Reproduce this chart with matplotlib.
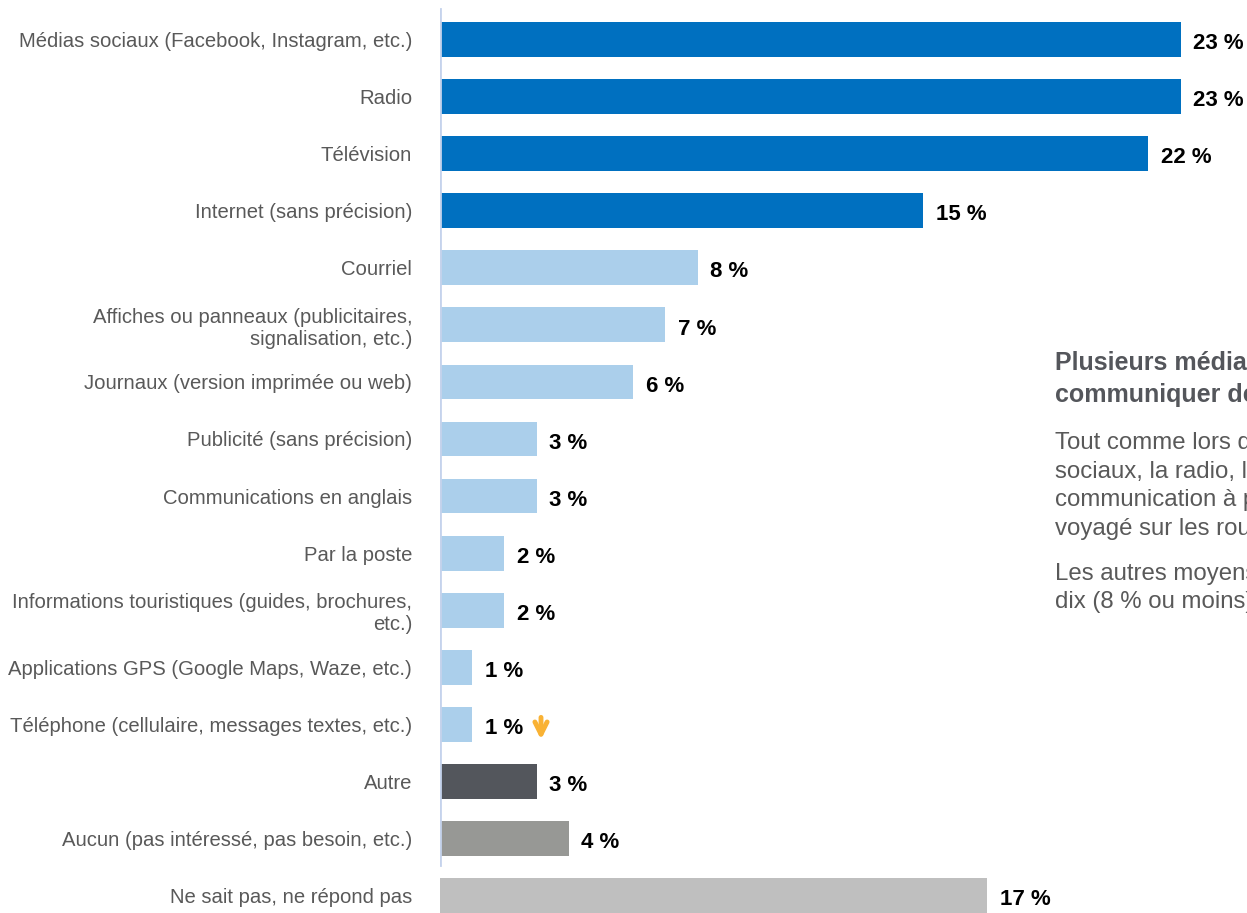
# moyens de communication - diagramme a barres horizontales

import matplotlib.pyplot as plt
from matplotlib.text import OffsetFrom

plt.rcParams['font.family'] = ['Liberation Sans', 'DejaVu Sans']

categories = [
    "Médias sociaux (Facebook, Instagram, etc.)",
    "Radio",
    "Télévision",
    "Internet (sans précision)",
    "Courriel",
    "Affiches ou panneaux (publicitaires,\nsignalisation, etc.)",
    "Journaux (version imprimée ou web)",
    "Publicité (sans précision)",
    "Communications en anglais",
    "Par la poste",
    "Informations touristiques (guides, brochures,\netc.)",
    "Applications GPS (Google Maps, Waze, etc.)",
    "Téléphone (cellulaire, messages textes, etc.)",
    "Autre",
    "Aucun (pas intéressé, pas besoin, etc.)",
    "Ne sait pas, ne répond pas",
]
values = [23, 23, 22, 15, 8, 7, 6, 3, 3, 2, 2, 1, 1, 3, 4, 17]
value_labels = ["23 %", "23 %", "22 %", "15 %", "8 %", "7 %", "6 %", "3 %",
                "3 %", "2 %", "2 %", "1 %", "1 %", "3 %", "4 %", "17 %"]
# indice de la barre marquee d'une baisse
baisse = [12]

dark_blue = "#0070c0"
light_blue = "#abcfeb"
colors = [dark_blue] * 4 + [light_blue] * 9 + ["#53565c", "#979895", "#bfbfbf"]

title_lines = ["Plusieurs médias pour", "communiquer des informations"]
body_lines = [
    "Tout comme lors de la dernière édition, les médias",
    "sociaux, la radio, la télévision et Internet sont les",
    "communication à privilégier pour rejoindre ceux qui ont",
    "voyagé sur les routes du Québec.",
]
body_lines2 = [
    "Les autres moyens sont mentionnés par moins d'un répondant sur",
    "dix (8 % ou moins).",
]

W, H = 1247, 913
fig = plt.figure(figsize=(W / 100, H / 100), dpi=100)
ax = fig.add_axes([440 / W, 0, (W - 440) / W, 1])

pos = list(range(len(categories)))
ax.barh(pos, values, height=0.61, color=colors)

ax.set_xlim(0, (W - 440) / 32.2)
ax.set_ylim(15.306, -0.692)

for s in ax.spines.values():
    s.set_visible(False)
ax.axvline(0, ymin=1 - 865 / H, ymax=1 - 9 / H, color="#c5d3ec", lw=2)

ax.set_xticks([])
ax.set_yticks(pos)
ax.set_yticklabels(categories, fontsize=14.6, color="#595959", linespacing=1.2)
ax.tick_params(axis="y", length=0, pad=20)

for i, (v, lab) in enumerate(zip(values, value_labels)):
    t = ax.annotate(lab, xy=(v, i), xytext=(9, -3), textcoords="offset points",
                    ha="left", va="center", fontsize=16, fontweight="bold",
                    color="black", annotation_clip=False)
    if i in baisse:
        ax.annotate("", xy=(13, -8), xycoords=OffsetFrom(t, (1, 0.5), unit="points"),
                    xytext=(13, 8), textcoords=OffsetFrom(t, (1, 0.5), unit="points"),
                    arrowprops=dict(arrowstyle="->", color="#f9b234", lw=3.5,
                                    mutation_scale=22, shrinkA=0, shrinkB=0))

x0 = 1055 / W
for line, yb in zip(title_lines, [370, 402]):
    fig.text(x0, 1 - yb / H, line, fontsize=18, fontweight="bold",
             color="#54565b", va="baseline")
for line, yb in zip(body_lines + body_lines2, [449, 477.5, 506, 534.5, 580, 608]):
    fig.text(x0, 1 - yb / H, line, fontsize=17.3, color="#595959", va="baseline")

fig.savefig("out.png", dpi=100)
